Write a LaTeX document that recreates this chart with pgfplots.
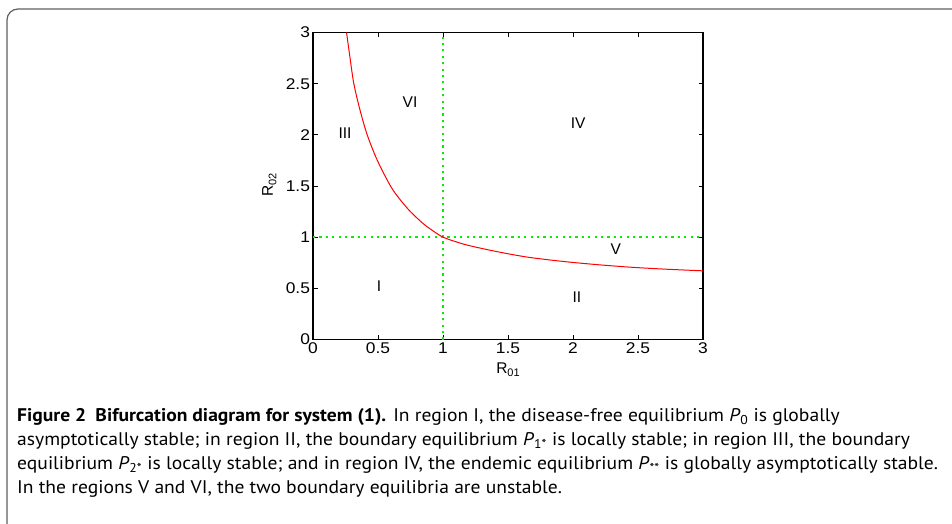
\documentclass[border=0pt]{standalone}
\usepackage{fontspec}
\setmainfont{Liberation Sans}
\newfontfamily\tickfont{Liberation Sans}[FakeStretch=1.12]
\newfontfamily\capfont{PT Sans}[FakeStretch=1.07]
\usepackage{pgfplots}
\pgfplotsset{compat=1.18}
\definecolor{mgreen}{RGB}{0,240,0}
\definecolor{framegray}{RGB}{95,95,95}
\pgfplotstableread{
x y
0.258 3.00
0.285 2.75
0.314 2.50
0.360 2.25
0.417 2.00
0.495 1.75
0.596 1.50
0.665 1.375
0.749 1.25
0.850 1.13
0.925 1.06
1.000 1.00
1.100 0.955
1.200 0.918
1.410 0.860
1.650 0.805
1.930 0.762
2.200 0.730
2.450 0.706
2.700 0.688
3.000 0.671
}\curvedata
\begin{document}
\begin{tikzpicture}[x=1pt,y=1pt]
\useasboundingbox (0,0) rectangle (952,523);
\draw[framegray, line width=1.2pt, rounded corners=11pt] (7,-14) rectangle (970,514);
\begin{axis}[
  at={(313pt,183.5pt)}, anchor=south west,
  width=390pt, height=307pt, scale only axis,
  xmin=0, xmax=3, ymin=0, ymax=3,
  xtick={0,0.5,1,1.5,2,2.5,3}, ytick={0,0.5,1,1.5,2,2.5,3},
  tick align=inside, major tick length=4.5pt,
  axis line style={line width=1.2pt},
  every tick/.style={black, line width=0.8pt},
  ticklabel style={font=\tickfont\fontsize{15.5}{16}\selectfont},
  /pgf/number format/assume math mode=true,
  xticklabel style={yshift=0pt},
  yticklabel style={xshift=0.5pt},
  xlabel={R\raisebox{-0.45ex}{\fontsize{11}{12}\selectfont 01}},
  ylabel={R\raisebox{-0.45ex}{\fontsize{11}{12}\selectfont 02}},
  label style={font=\fontsize{15.5}{17}\selectfont},
  xlabel style={at={(axis description cs:0.5,-0.098)}, anchor=center},
  ylabel style={at={(axis description cs:-0.112,0.503)}, anchor=center, rotate=0},
  clip=false,
]
\addplot[mgreen, line width=2.1pt, dash pattern=on 2.1pt off 4.3pt] coordinates {(1,0) (1,3)};
\addplot[mgreen, line width=2.1pt, dash pattern=on 2.1pt off 4.3pt] coordinates {(0,1) (3,1)};
\addplot[red, line width=1pt, smooth] table {\curvedata};
\node[font=\fontsize{15.5}{17}\selectfont] at (axis cs:0.746,2.32) {VI};
\node[font=\fontsize{15.5}{17}\selectfont] at (axis cs:0.246,2.02) {III};
\node[font=\fontsize{15.5}{17}\selectfont] at (axis cs:2.04,2.11) {IV};
\node[font=\fontsize{15.5}{17}\selectfont] at (axis cs:2.33,0.878) {V};
\node[font=\fontsize{15.5}{17}\selectfont] at (axis cs:0.508,0.523) {I};
\node[font=\fontsize{15.5}{17}\selectfont] at (axis cs:2.03,0.411) {II};
\end{axis}
\begin{scope}[every node/.style={anchor=base west, inner sep=0pt, font=\capfont\fontsize{18.3}{22}\selectfont}]
\node at (17,102) {\textbf{Figure 2\enspace Bifurcation diagram for system (1).} In region I, the disease-free equilibrium \textit{P}\textsubscript{0} is globally};
\node at (17,78) {asymptotically stable; in region II, the boundary equilibrium \textit{P}\textsubscript{1*} is locally stable; in region III, the boundary};
\node at (17,54) {equilibrium \textit{P}\textsubscript{2*} is locally stable; and in region IV, the endemic equilibrium \textit{P}\textsubscript{**} is globally asymptotically stable.};
\node at (17,30) {In the regions V and VI, the two boundary equilibria are unstable.};
\end{scope}
\end{tikzpicture}
\end{document}
